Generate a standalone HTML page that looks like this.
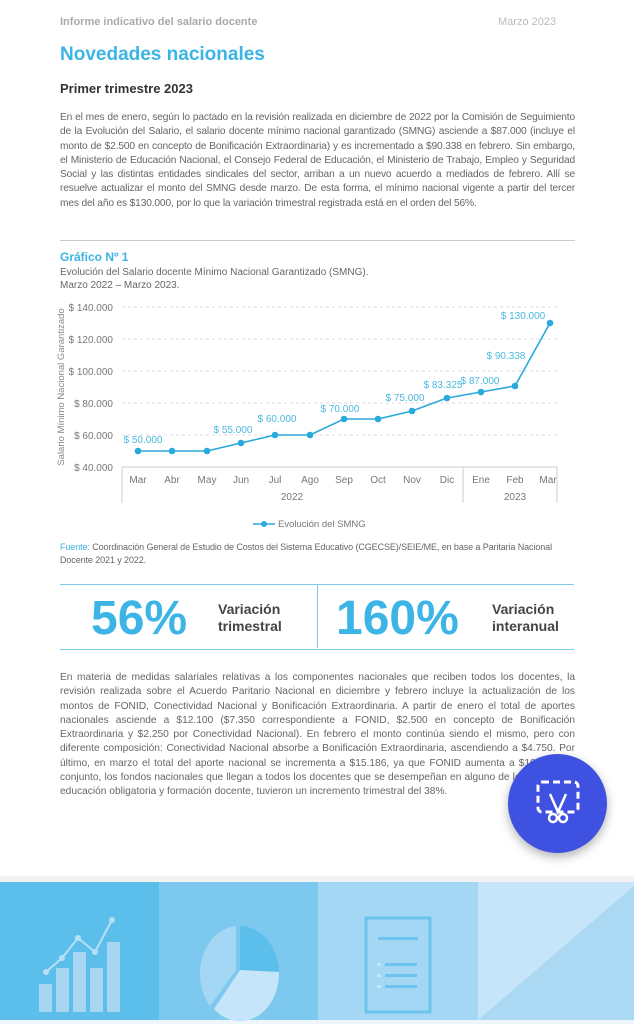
<!DOCTYPE html>
<html><head><meta charset="utf-8"><style>
body{margin:0;width:634px;height:1024px;background:#fff;font-family:"Liberation Sans",sans-serif;position:relative;overflow:hidden;color:#555}
.a{position:absolute}
.p{font-size:10.2px;line-height:14.3px;color:#666;text-align:justify;width:515px;left:60px}
</style></head><body>
<div class="a" style="left:60px;top:16px;font-size:11px;font-weight:bold;color:#aaa">Informe indicativo del salario docente</div>
<div class="a" style="left:498px;top:16px;font-size:11px;color:#bbb">Marzo 2023</div>
<div class="a" style="left:60px;top:44px;font-size:19px;font-weight:bold;color:#3cb4e5">Novedades nacionales</div>
<div class="a" style="left:60px;top:81px;font-size:13px;font-weight:bold;color:#333">Primer trimestre 2023</div>
<div class="a p" style="top:111px;letter-spacing:-0.15px">En el mes de enero, según lo pactado en la revisión realizada en diciembre de 2022 por la Comisión de Seguimiento de la Evolución del Salario, el salario docente mínimo nacional garantizado (SMNG) asciende a $87.000 (incluye el monto de $2.500 en concepto de Bonificación Extraordinaria) y es incrementado a $90.338 en febrero. Sin embargo, el Ministerio de Educación Nacional, el Consejo Federal de Educación, el Ministerio de Trabajo, Empleo y Seguridad Social y las distintas entidades sindicales del sector, arriban a un nuevo acuerdo a mediados de febrero. Allí se resuelve actualizar el monto del SMNG desde marzo. De esta forma, el mínimo nacional vigente a partir del tercer mes del año es $130.000, por lo que la variación trimestral registrada está en el orden del 56%.</div>
<div class="a" style="left:60px;top:240px;width:515px;border-top:1px solid #ccc"></div>
<div class="a" style="left:60px;top:250px;font-size:12px;font-weight:bold;color:#3cb4e5">Gráfico Nº 1</div>
<div class="a" style="left:60px;top:266px;font-size:10px;color:#666;line-height:13px">Evolución del Salario docente Mínimo Nacional Garantizado (SMNG).<br>Marzo 2022 – Marzo 2023.</div>
<svg class="a" style="left:0;top:0" width="634" height="540">
<g stroke="#ddd" stroke-dasharray="3,3" stroke-width="1">
<line x1="122" x2="557" y1="307" y2="307"/><line x1="122" x2="557" y1="339" y2="339"/><line x1="122" x2="557" y1="371" y2="371"/><line x1="122" x2="557" y1="403" y2="403"/><line x1="122" x2="557" y1="435" y2="435"/>
</g>
<g stroke="#ccc"><line x1="122" x2="557" y1="467" y2="467"/><line x1="122" x2="122" y1="467" y2="503"/><line x1="463" x2="463" y1="467" y2="503"/><line x1="557" x2="557" y1="467" y2="503"/></g>
<g font-size="10" fill="#777" text-anchor="end" font-family="Liberation Sans"><text x="113" y="311">$ 140.000</text><text x="113" y="343">$ 120.000</text><text x="113" y="375">$ 100.000</text><text x="113" y="407">$ 80.000</text><text x="113" y="439">$ 60.000</text><text x="113" y="471">$ 40.000</text></g>
<text transform="translate(64,387) rotate(-90)" font-size="9.5" fill="#888" text-anchor="middle">Salario Mínimo Nacional Garantizado</text>
<g font-size="10" fill="#777" text-anchor="middle"><text x="138" y="483">Mar</text><text x="172" y="483">Abr</text><text x="207" y="483">May</text><text x="241" y="483">Jun</text><text x="275" y="483">Jul</text><text x="310" y="483">Ago</text><text x="344" y="483">Sep</text><text x="378" y="483">Oct</text><text x="412" y="483">Nov</text><text x="447" y="483">Dic</text><text x="481" y="483">Ene</text><text x="515" y="483">Feb</text><text x="548" y="483">Mar</text><text x="292" y="500">2022</text><text x="515" y="500">2023</text></g>
<polyline fill="none" stroke="#29a9dc" stroke-width="1.6" points="138,451 172,451 207,451 241,443 275,435 310,435 344,419 378,419 412,411 447,398 481,392 515,386 550,323"/>
<g fill="#29a9dc"><circle cx="138" cy="451" r="3.3"/><circle cx="172" cy="451" r="3.3"/><circle cx="207" cy="451" r="3.3"/><circle cx="241" cy="443" r="3.3"/><circle cx="275" cy="435" r="3.3"/><circle cx="310" cy="435" r="3.3"/><circle cx="344" cy="419" r="3.3"/><circle cx="378" cy="419" r="3.3"/><circle cx="412" cy="411" r="3.3"/><circle cx="447" cy="398" r="3.3"/><circle cx="481" cy="392" r="3.3"/><circle cx="515" cy="386" r="3.3"/><circle cx="550" cy="323" r="3.3"/></g>
<g font-size="10" fill="#4bb8e0" text-anchor="middle"><text x="143" y="443">$ 50.000</text><text x="233" y="433">$ 55.000</text><text x="277" y="422">$ 60.000</text><text x="340" y="412">$ 70.000</text><text x="405" y="401">$ 75.000</text><text x="443" y="388">$ 83.325</text><text x="480" y="384">$ 87.000</text><text x="506" y="359">$ 90.338</text><text x="523" y="319">$ 130.000</text></g>
<line x1="253" x2="275" y1="524" y2="524" stroke="#29a9dc" stroke-width="1.6"/><circle cx="264" cy="524" r="3" fill="#29a9dc"/>
<text x="278" y="527" font-size="9.5" fill="#777">Evolución del SMNG</text>
</svg>
<div class="a" style="left:60px;top:541px;width:520px;font-size:9px;letter-spacing:-0.1px;line-height:12.5px;color:#666"><span style="color:#3cb4e5">Fuente:</span> Coordinación General de Estudio de Costos del Sistema Educativo (CGECSE)/SEIE/ME, en base a Paritaria Nacional Docente 2021 y 2022.</div>
<div class="a" style="left:60px;top:584px;width:514px;height:64px;border-top:1.5px solid #7ccbe8;border-bottom:1.5px solid #7ccbe8"></div>
<div class="a" style="left:317px;top:585px;height:63px;border-left:1.5px solid #7ccbe8"></div>
<div class="a" style="left:91px;top:591px;font-size:48px;font-weight:bold;color:#3cb4e5">56%</div>
<div class="a" style="left:218px;top:601px;font-size:14px;font-weight:bold;color:#444;line-height:17px">Variación<br>trimestral</div>
<div class="a" style="left:336px;top:591px;font-size:48px;font-weight:bold;color:#3cb4e5">160%</div>
<div class="a" style="left:492px;top:601px;font-size:14px;font-weight:bold;color:#444;line-height:17px">Variación<br>interanual</div>
<div class="a p" style="top:671px">En materia de medidas salariales relativas a los componentes nacionales que reciben todos los docentes, la revisión realizada sobre el Acuerdo Paritario Nacional en diciembre y febrero incluye la actualización de los montos de FONID, Conectividad Nacional y Bonificación Extraordinaria. A partir de enero el total de aportes nacionales asciende a $12.100 ($7.350 correspondiente a FONID, $2.500 en concepto de Bonificación Extraordinaria y $2.250 por Conectividad Nacional). En febrero el monto continúa siendo el mismo, pero con diferente composición: Conectividad Nacional absorbe a Bonificación Extraordinaria, ascendiendo a $4.750. Por último, en marzo el total del aporte nacional se incrementa a $15.186, ya que FONID aumenta a $10.436. En conjunto, los fondos nacionales que llegan a todos los docentes que se desempeñan en alguno de los niveles de educación obligatoria y formación docente, tuvieron un incremento trimestral del 38%.</div>
<div class="a" style="left:508px;top:754px;width:99px;height:99px;border-radius:50%;background:#3f51e0;box-shadow:0 4px 10px rgba(0,0,0,.3)"></div>
<svg class="a" style="left:536px;top:780px" width="44" height="46"><rect x="2" y="2" width="40" height="30" rx="4" fill="none" stroke="#fff" stroke-width="3" stroke-dasharray="7,4"/><path d="M14 14 L22 32 L30 14" stroke="#fff" stroke-width="2.5" fill="none"/><circle cx="17" cy="38" r="4" fill="#3f51e0" stroke="#fff" stroke-width="2.5"/><circle cx="27" cy="38" r="4" fill="#3f51e0" stroke="#fff" stroke-width="2.5"/></svg>
<div class="a" style="left:0;top:876px;width:634px;height:6px;background:#f2f2f2"></div>
<svg class="a" style="left:0;top:882px" width="634" height="142">
<rect x="0" y="0" width="159" height="138" fill="#5cbeeb"/>
<rect x="159" y="0" width="159" height="138" fill="#7dc8ef"/>
<rect x="318" y="0" width="160" height="138" fill="#a4d7f3"/>
<rect x="478" y="0" width="156" height="138" fill="#c6e5f8"/>
<polygon points="478,138 634,4 634,138" fill="#abd9f3"/>
<rect x="0" y="138" width="634" height="4" fill="#eef6fb"/>
<g fill="#a7d6f2"><rect x="39" y="102" width="13" height="28"/><rect x="56" y="86" width="13" height="44"/><rect x="73" y="70" width="13" height="60"/><rect x="90" y="86" width="13" height="44"/><rect x="107" y="60" width="13" height="70"/></g>
<polyline points="46,90 62,76 78,56 95,70 112,38" fill="none" stroke="#b8e0f5" stroke-width="2"/>
<g fill="#b8e0f5"><circle cx="46" cy="90" r="3"/><circle cx="62" cy="76" r="3"/><circle cx="78" cy="56" r="3"/><circle cx="95" cy="70" r="3"/><circle cx="112" cy="38" r="3"/></g>
<path d="M240 88 L240 44 A39 48 0 0 1 279 90 Z" fill="#5cbeeb"/>
<path d="M240 88 L279 90 A39 48 0 0 1 214 127 Z" fill="#c6e5f8"/>
<path d="M236 88 L210 124 A39 48 0 0 1 236 44 Z" fill="#a4d7f3"/>
<rect x="366" y="36" width="64" height="94" fill="none" stroke="#6cc4ec" stroke-width="3"/>
<g fill="#6cc4ec"><rect x="378" y="55" width="40" height="3"/><rect x="385" y="81" width="32" height="3"/><rect x="385" y="92" width="32" height="3"/><rect x="385" y="103" width="32" height="3"/><rect x="377" y="81" width="4" height="3" fill="#c6e5f8"/><rect x="377" y="92" width="4" height="3" fill="#c6e5f8"/><rect x="377" y="103" width="4" height="3" fill="#c6e5f8"/></g>
</svg>
</body></html>
